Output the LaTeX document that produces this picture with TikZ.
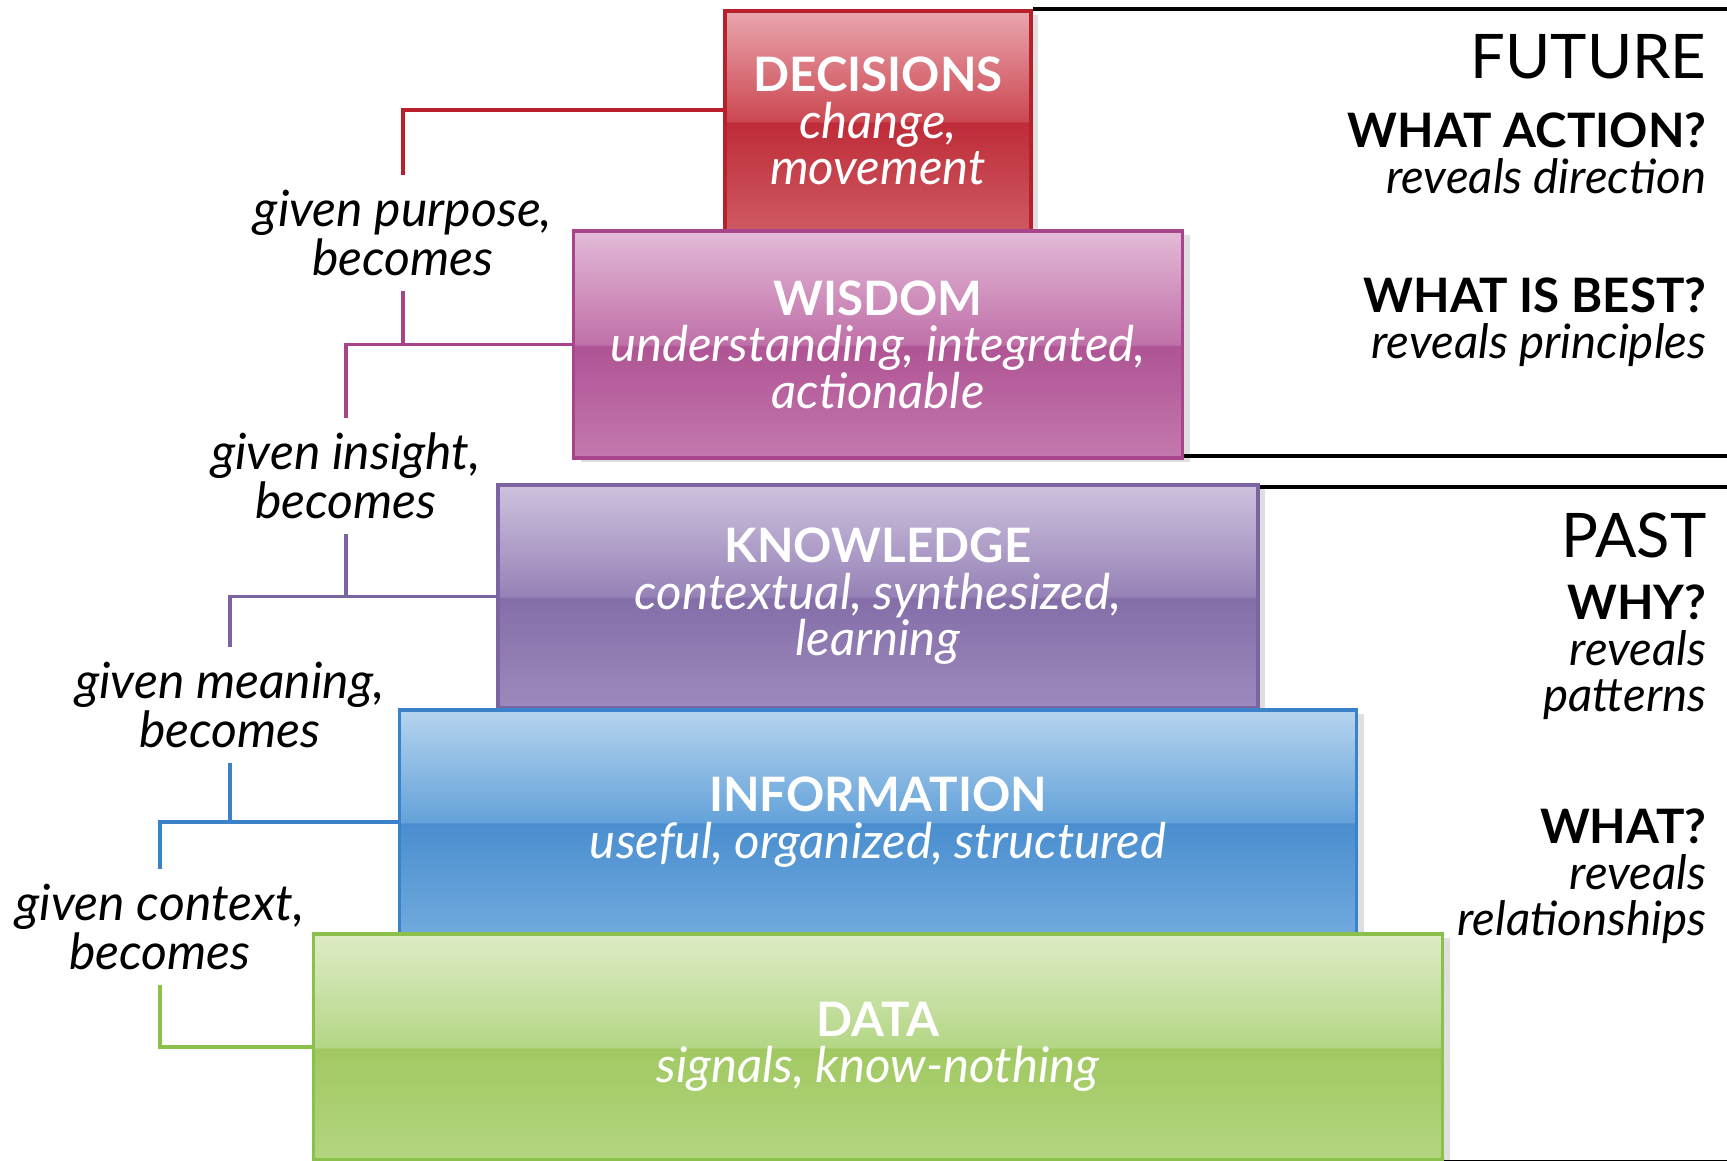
\documentclass[tikz,border=0pt]{standalone}
\usepackage{fontspec}
\setmainfont{Lato}
\usetikzlibrary{shadows}

\definecolor{decE}{HTML}{B8202C}
\definecolor{decT}{HTML}{E9A6AE}
\definecolor{decU}{HTML}{CC4852}
\definecolor{decL}{HTML}{BE2C38}
\definecolor{decB}{HTML}{CE5A62}
\definecolor{wisE}{HTML}{A8448C}
\definecolor{wisT}{HTML}{E3BAD7}
\definecolor{wisU}{HTML}{C070A8}
\definecolor{wisL}{HTML}{AF5494}
\definecolor{wisB}{HTML}{C478AE}
\definecolor{knoE}{HTML}{7C64A2}
\definecolor{knoT}{HTML}{CEC2DE}
\definecolor{knoU}{HTML}{9682B6}
\definecolor{knoL}{HTML}{846EA8}
\definecolor{knoB}{HTML}{9C8ABE}
\definecolor{infE}{HTML}{3C82CA}
\definecolor{infT}{HTML}{B6D4EF}
\definecolor{infU}{HTML}{64A2D9}
\definecolor{infL}{HTML}{4A8ECF}
\definecolor{infB}{HTML}{70AADD}
\definecolor{datE}{HTML}{8CC04C}
\definecolor{datT}{HTML}{DEECC6}
\definecolor{datU}{HTML}{B4D686}
\definecolor{datL}{HTML}{A1C962}
\definecolor{datB}{HTML}{B3D580}

\pgfdeclareverticalshading{decglass}{100bp}{color(0bp)=(decB); color(25bp)=(decB); color(49.6bp)=(decL); color(50bp)=(decU); color(75bp)=(decT); color(100bp)=(decT)}
\pgfdeclareverticalshading{wisglass}{100bp}{color(0bp)=(wisB); color(25bp)=(wisB); color(49.6bp)=(wisL); color(50bp)=(wisU); color(75bp)=(wisT); color(100bp)=(wisT)}
\pgfdeclareverticalshading{knoglass}{100bp}{color(0bp)=(knoB); color(25bp)=(knoB); color(49.6bp)=(knoL); color(50bp)=(knoU); color(75bp)=(knoT); color(100bp)=(knoT)}
\pgfdeclareverticalshading{infglass}{100bp}{color(0bp)=(infB); color(25bp)=(infB); color(49.6bp)=(infL); color(50bp)=(infU); color(75bp)=(infT); color(100bp)=(infT)}
\pgfdeclareverticalshading{datglass}{100bp}{color(0bp)=(datB); color(25bp)=(datB); color(49.6bp)=(datL); color(50bp)=(datU); color(75bp)=(datT); color(100bp)=(datT)}

\begin{document}
\begin{tikzpicture}
        [layer/.style={draw,line width=1.1pt,inner sep=0,text=white,align=center,
           font=\fontsize{14}{13.2}\selectfont,
           drop shadow={opacity=0.25,shadow xshift=2pt,shadow yshift=-1pt}},
         given/.style={align=center,inner sep=4pt,font=\fontsize{14.2}{12.6}\selectfont\itshape},
         side/.style={anchor=east,align=right,inner sep=0,font=\fontsize{13.5}{13.1}\selectfont},
         big/.style={side,font=\fontsize{17.5}{19}\selectfont},
         link/.style={line width=1pt},
         rule/.style={line width=1.1pt,black}]

        \useasboundingbox (0,0) rectangle (17.27,-11.61);

        \node[layer,draw=decE,shading=decglass,minimum width=3.06cm,minimum height=2.2cm] (dec) at (8.78,-1.21)
          {\fontsize{13.5}{13.2}\selectfont\textbf{DECISIONS}\\\textit{change,}\\\textit{movement}};
        \node[layer,draw=wisE,shading=wisglass,minimum width=6.09cm,minimum height=2.27cm] (wis) at (8.78,-3.445)
          {\fontsize{13.5}{13.2}\selectfont\textbf{WISDOM}\\\textit{understanding, integrated,}\\\textit{actionable}};
        \node[layer,draw=knoE,shading=knoglass,minimum width=7.6cm,minimum height=2.23cm] (kno) at (8.78,-5.965)
          {\fontsize{13.5}{13.2}\selectfont\textbf{KNOWLEDGE}\\\textit{contextual, synthesized,}\\\textit{learning}};
        \node[layer,draw=infE,shading=infglass,minimum width=9.57cm,minimum height=2.24cm] (inf) at (8.78,-8.22)
          {\fontsize{13.5}{13.2}\selectfont\textbf{INFORMATION}\\\textit{useful, organized, structured}};
        \node[layer,draw=datE,shading=datglass,minimum width=11.29cm,minimum height=2.26cm] (dat) at (8.78,-10.47)
          {\fontsize{13.5}{13.2}\selectfont\textbf{DATA}\\\textit{signals, know-nothing}};

        \node[given] (purpose) at (4.03,-2.33) {given purpose,\\becomes};
        \node[given] (insight) at (3.46,-4.76) {given insight,\\becomes};
        \node[given] (meaning) at (2.30,-7.05) {given meaning,\\becomes};
        \node[given] (context) at (1.60,-9.27) {given context,\\becomes};

        \draw[link,decE] ([yshift=0.11cm]dec.west) -| (purpose.north);
        \draw[link,wisE] (wis.west) -| (purpose.south) (wis.west) -| (insight.north);
        \draw[link,knoE] (kno.west) -| (insight.south) (kno.west) -| (meaning.north);
        \draw[link,infE] (inf.west) -| (meaning.south) (inf.west) -| (context.north);
        \draw[link,datE] (dat.west) -| (context.south);

        \coordinate (edge) at (17.27,0);
        \draw[rule] (dec.north east) -- (dec.north east -| edge);
        \draw[rule] ([yshift=0.04cm]wis.south east) -- ([yshift=0.04cm]wis.south east -| edge);
        \draw[rule] ([yshift=-0.04cm]kno.north east) -- ([yshift=-0.04cm]kno.north east -| edge);
        \draw[rule] (dat.south east) -- (dat.south east -| edge);

        \node[big] (future) at (17.07,-0.57) {FUTURE};
        \node[side] (action) at (17.07,-1.53) {\textbf{WHAT ACTION?}\\\textit{reveals direction}};
        \node[side] (best) at (17.07,-3.22) {\textbf{WHAT IS BEST?}\\\textit{reveals principles}};
        \node[big] (past) at (17.07,-5.35) {PAST};
        \node[side] (why) at (17.07,-6.52) {\textbf{WHY?}\\\textit{reveals}\\\textit{patterns}};
        \node[side] (what) at (17.07,-8.76) {\textbf{WHAT?}\\\textit{reveals}\\\textit{relationships}};
      \end{tikzpicture}
\end{document}
